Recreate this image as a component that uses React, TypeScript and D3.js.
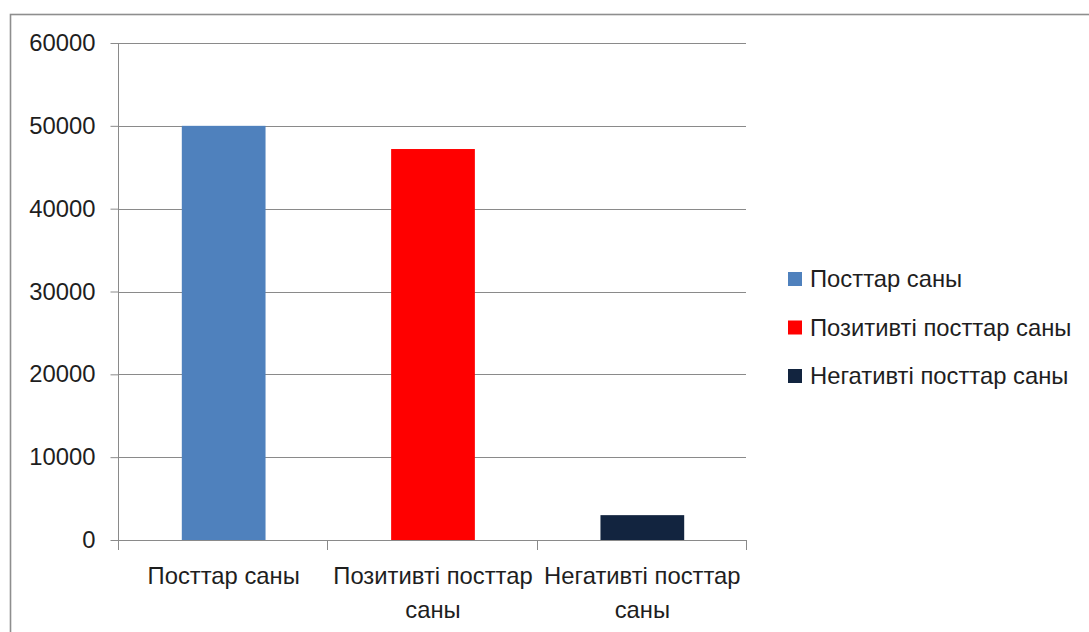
import React, { useEffect, useRef } from "react";
import * as d3 from "d3";

const categories = ["Посттар саны", "Позитивті посттар саны", "Негативті посттар саны"];
const values = [50000, 47200, 3000];
const colors = ["#4F81BD", "#FF0000", "#12243F"];
const yTicks = [0, 10000, 20000, 30000, 40000, 50000, 60000];

const W = 1089;
const H = 632;
const FONT = "'Liberation Sans', Arial, sans-serif";
const FS = 23.8;

export default function App() {
  const ref = useRef<SVGSVGElement>(null);

  useEffect(() => {
    const svg = d3.select(ref.current);
    svg.selectAll("*").remove();

    const plot = { left: 118, right: 746, top: 43, bottom: 540 };

    const x = d3.scaleBand<string>().domain(categories).range([plot.left, plot.right]).paddingInner(0.6).paddingOuter(0.3);
    const bandStep = (plot.right - plot.left) / categories.length;
    const y = d3.scaleLinear().domain([0, 60000]).range([plot.bottom, plot.top]);

    // outer chart frame
    svg.append("rect")
      .attr("x", 10.5).attr("y", 14.5).attr("width", W + 40).attr("height", H + 40)
      .attr("fill", "#fff").attr("stroke", "#8e8e8e").attr("stroke-width", 1.6);

    // horizontal gridlines
    svg.append("g").selectAll("line").data(yTicks.filter((t) => t > 0)).join("line")
      .attr("x1", plot.left).attr("x2", plot.right)
      .attr("y1", (d) => Math.round(y(d)) + 0.5).attr("y2", (d) => Math.round(y(d)) + 0.5)
      .attr("stroke", "#8a8a8a").attr("stroke-width", 1);

    // bars
    svg.append("g").selectAll("rect").data(categories).join("rect")
      .attr("x", (d) => x(d)! + 1)
      .attr("width", x.bandwidth())
      .attr("y", (_, i) => y(values[i]))
      .attr("height", (_, i) => y(0) - y(values[i]))
      .attr("fill", (_, i) => colors[i]);

    // y axis
    const yAxis = svg.append("g").attr("transform", `translate(${plot.left + 0.5},0)`)
      .call(d3.axisLeft(y).tickValues(yTicks).tickSize(8).tickPadding(15).tickFormat(d3.format("d")));
    yAxis.select(".domain").attr("stroke", "#8a8a8a").attr("d", `M0,${plot.top}V${plot.bottom}`);
    yAxis.selectAll(".tick line").attr("stroke", "#8a8a8a");
    yAxis.selectAll(".tick text").attr("font-family", FONT).attr("font-size", FS).attr("fill", "#1e1e1e");

    // x axis baseline and category separators
    const xg = svg.append("g");
    xg.append("line").attr("x1", plot.left).attr("x2", plot.right)
      .attr("y1", plot.bottom + 0.5).attr("y2", plot.bottom + 0.5).attr("stroke", "#8a8a8a");
    const sepPositions = d3.range(categories.length + 1).map((i) => plot.left + i * bandStep);
    xg.selectAll("line.sep").data(sepPositions).join("line").attr("class", "sep")
      .attr("x1", (d) => Math.round(d) + 0.5).attr("x2", (d) => Math.round(d) + 0.5)
      .attr("y1", plot.bottom).attr("y2", plot.bottom + 10).attr("stroke", "#8a8a8a");

    // category labels, wrapped to the band width
    categories.forEach((cat) => {
      const cx = x(cat)! + x.bandwidth() / 2 + 1;
      const text = xg.append("text").attr("x", cx).attr("y", 584)
        .attr("text-anchor", "middle").attr("font-family", FONT).attr("font-size", FS).attr("fill", "#1e1e1e");
      const words = cat.split(" ");
      let line: string[] = [];
      let lineNo = 0;
      let tspan = text.append("tspan").attr("x", cx).attr("y", 584);
      words.forEach((w) => {
        line.push(w);
        tspan.text(line.join(" "));
        if ((tspan.node() as SVGTSpanElement).getComputedTextLength() > bandStep + 4 && line.length > 1) {
          line.pop();
          tspan.text(line.join(" "));
          line = [w];
          lineNo += 1;
          tspan = text.append("tspan").attr("x", cx).attr("y", 584 + lineNo * 34).text(w);
        }
      });
    });

    // legend
    const legend = svg.append("g");
    categories.forEach((cat, i) => {
      const cy = 279 + i * 48.5;
      legend.append("rect").attr("x", 788).attr("y", cy - 7).attr("width", 14).attr("height", 14).attr("fill", colors[i]);
      legend.append("text").attr("x", 810).attr("y", cy).attr("dy", "0.35em")
        .attr("font-family", FONT).attr("font-size", FS).attr("fill", "#1e1e1e").text(cat);
    });
  }, []);

  return (
    <div style={{ position: "absolute", left: 0, top: 0, width: W, height: H, overflow: "hidden", background: "#fff" }}>
      <svg ref={ref} width={W} height={H} />
    </div>
  );
}
